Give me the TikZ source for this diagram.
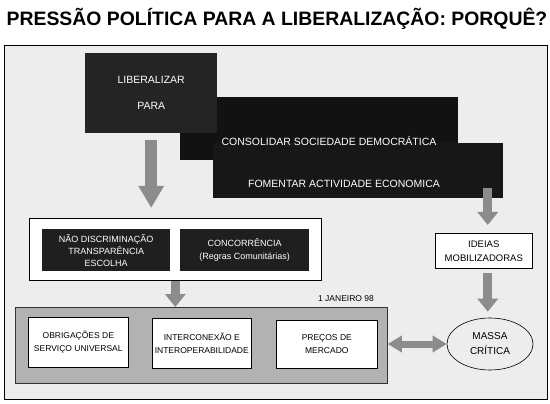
\documentclass[tikz,border=0pt]{standalone}
\usepackage{fontspec}
\setmainfont{Liberation Sans}
\usetikzlibrary{arrows.meta,positioning,shapes.geometric}

\begin{document}
\begin{tikzpicture}[
    x=1pt, y=-1pt,
    darkbox/.style={rectangle, fill=black!90, text=white, inner sep=0pt, anchor=north west},
    lighttext/.style={text=white, font=\fontsize{10.5}{12}\selectfont},
    innerdark/.style={rectangle, fill=black!88, text=white, inner sep=0pt, anchor=north west, align=center, font=\fontsize{9}{12}\selectfont},
    whitebox/.style={rectangle, draw=black, line width=0.6pt, fill=white, inner sep=0pt, anchor=north west, align=center, font=\fontsize{8.5}{12.5}\selectfont},
    graybox/.style={rectangle, draw=black!80, line width=0.8pt, fill=black!30, inner sep=0pt, anchor=north west},
    fatarrow/.style={draw=black!45, line width=9pt, -{Triangle[width=20pt,length=13pt]}},
    node distance=0.2cm
    ]
    \useasboundingbox (0,0) rectangle (550,404);
    \fill[white] (0,0) rectangle (550,404);
    \draw[line width=0.8pt, fill=black!7] (4,45) rectangle (547,399);
    \node[font=\bfseries\fontsize{19.4}{22}\selectfont] (Title) at (277,19) {PRESSÃO POLÍTICA PARA A LIBERALIZAÇÃO: PORQUÊ?};

    \node[darkbox, fill=black!93, minimum width=278pt, minimum height=63pt] (Consolidar) at (180,97) {};
    \node[darkbox, fill=black!86, minimum width=132pt, minimum height=80pt, align=center, font=\fontsize{10.5}{12}\selectfont] (Liberalizar) at (85,53) {LIBERALIZAR\\[14pt]PARA};
    \node[darkbox, fill=black!91, minimum width=290pt, minimum height=55pt] (Fomentar) at (213,143) {};
    \node[lighttext] (ConsolidarText) at (329,141) {CONSOLIDAR SOCIEDADE DEMOCRÁTICA};
    \node[lighttext] (FomentarText) at (344,184) {FOMENTAR ACTIVIDADE ECONOMICA};

    \node[whitebox, minimum width=292pt, minimum height=62pt] (Principios) at (29,218) {};
    \node[innerdark, minimum width=128pt, minimum height=42pt] (NaoDiscriminacao) at (42,229) {NÃO DISCRIMINAÇÃO\\TRANSPARÊNCIA\\ESCOLHA};
    \node[innerdark, minimum width=129pt, minimum height=42pt, font=\fontsize{9}{13}\selectfont] (Concorrencia) at (180,229) {CONCORRÊNCIA\\(Regras Comunitárias)};

    \node[whitebox, minimum width=97pt, minimum height=35pt, font=\fontsize{9.5}{14}\selectfont] (Ideias) at (435,233) {IDEIAS\\MOBILIZADORAS};

    \node[graybox, minimum width=372pt, minimum height=76pt] (Mercado) at (15,307) {};
    \node[font=\fontsize{8.5}{10}\selectfont] (Data) at (346,299) {1 JANEIRO 98};
    \node[whitebox, minimum width=100pt, minimum height=50pt] (Obrigacoes) at (28,317) {OBRIGAÇÕES DE\\SERVIÇO UNIVERSAL};
    \node[whitebox, minimum width=99pt, minimum height=50pt] (Interconexao) at (152,318) {INTERCONEXÃO E\\INTEROPERABILIDADE};
    \node[whitebox, minimum width=101pt, minimum height=48pt] (Precos) at (276,320) {PREÇOS DE\\MERCADO};

    \node[ellipse, draw=black, line width=0.6pt, minimum width=86pt, minimum height=52pt, inner sep=0pt, align=center, font=\fontsize{10}{15}\selectfont] (Massa) at (490,344) {MASSA\\CRÍTICA};

    \draw[fatarrow, line width=12pt, -{Triangle[width=24pt,length=22pt]}, shorten <=7pt, shorten >=10pt] (Liberalizar.south) -- (Liberalizar.south |- Principios.north);
    \draw[fatarrow] (Principios.south) -- (Mercado.north -| Principios.south);
    \draw[fatarrow, shorten <=-10pt, shorten >=8pt] ([xshift=4pt]Fomentar.south -| Ideias.north) -- ([xshift=4pt]Ideias.north);
    \draw[fatarrow, shorten <=4pt, shorten >=6pt] ([xshift=4pt]Ideias.south) -- ([xshift=4pt]Ideias.south |- Massa.north);
    \draw[fatarrow, line width=7pt, {Triangle[width=16pt,length=14pt]}-{Triangle[width=16pt,length=14pt]}] (Mercado.east |- Massa.west) -- (Massa.west);
  \end{tikzpicture}
\end{document}
